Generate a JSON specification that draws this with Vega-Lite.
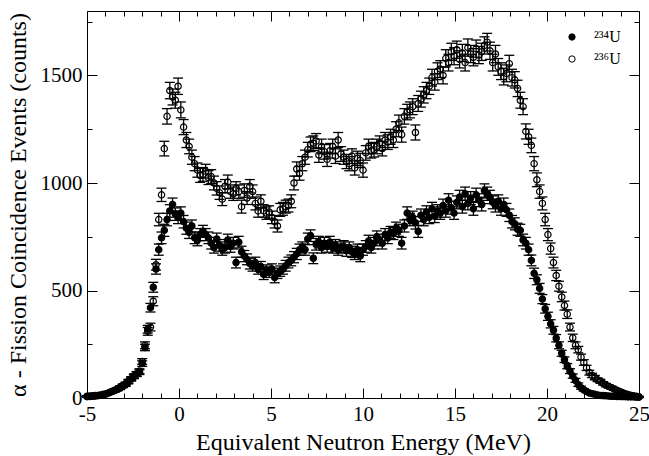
{
  "$schema": "https://vega.github.io/schema/vega-lite/v6.json",
  "width": 552,
  "height": 387,
  "autosize": {"type": "none"},
  "padding": {"left": 87, "top": 11, "right": 10, "bottom": 58},
  "background": "white",
  "config": {
    "view": {"stroke": "black", "strokeWidth": 1},
    "axis": {"domain": false, "grid": false, "tickColor": "black", "tickWidth": 1, "labelColor": "black", "titleColor": "black"}
  },
  "data": {
    "values": [
      {"E": -5, "a": 6, "ea": 2, "b": 8, "eb": 3},
      {"E": -4.85, "a": 7, "ea": 3, "b": 9, "eb": 3},
      {"E": -4.7, "a": 8, "ea": 3, "b": 10, "eb": 3},
      {"E": -4.55, "a": 9, "ea": 3, "b": 11, "eb": 3},
      {"E": -4.4, "a": 11, "ea": 3, "b": 12, "eb": 3},
      {"E": -4.25, "a": 13, "ea": 4, "b": 14, "eb": 4},
      {"E": -4.1, "a": 15, "ea": 4, "b": 17, "eb": 4},
      {"E": -3.95, "a": 19, "ea": 4, "b": 20, "eb": 4},
      {"E": -3.8, "a": 24, "ea": 5, "b": 25, "eb": 5},
      {"E": -3.65, "a": 30, "ea": 5, "b": 30, "eb": 5},
      {"E": -3.5, "a": 34, "ea": 6, "b": 36, "eb": 6},
      {"E": -3.35, "a": 40, "ea": 6, "b": 42, "eb": 6},
      {"E": -3.2, "a": 46, "ea": 7, "b": 50, "eb": 7},
      {"E": -3.05, "a": 55, "ea": 7, "b": 58, "eb": 8},
      {"E": -2.9, "a": 62, "ea": 8, "b": 66, "eb": 8},
      {"E": -2.75, "a": 75, "ea": 9, "b": 78, "eb": 9},
      {"E": -2.6, "a": 88, "ea": 9, "b": 90, "eb": 9},
      {"E": -2.45, "a": 100, "ea": 10, "b": 102, "eb": 10},
      {"E": -2.3, "a": 110, "ea": 10, "b": 112, "eb": 11},
      {"E": -2.15, "a": 120, "ea": 11, "b": 125, "eb": 11},
      {"E": -2, "a": 160, "ea": 13, "b": 170, "eb": 13},
      {"E": -1.85, "a": 235, "ea": 15, "b": 245, "eb": 16},
      {"E": -1.7, "a": 320, "ea": 18, "b": 310, "eb": 18},
      {"E": -1.55, "a": 420, "ea": 20, "b": 330, "eb": 18},
      {"E": -1.4, "a": 515, "ea": 23, "b": 450, "eb": 21},
      {"E": -1.25, "a": 600, "ea": 24, "b": 620, "eb": 25},
      {"E": -1.1, "a": 690, "ea": 26, "b": 830, "eb": 29},
      {"E": -0.95, "a": 745, "ea": 27, "b": 945, "eb": 31},
      {"E": -0.8, "a": 780, "ea": 28, "b": 1160, "eb": 34},
      {"E": -0.65, "a": 830, "ea": 29, "b": 1310, "eb": 36},
      {"E": -0.5, "a": 870, "ea": 29, "b": 1430, "eb": 38},
      {"E": -0.35, "a": 900, "ea": 30, "b": 1400, "eb": 37},
      {"E": -0.2, "a": 855, "ea": 29, "b": 1385, "eb": 37},
      {"E": -0.05, "a": 840, "ea": 29, "b": 1450, "eb": 38},
      {"E": 0.1, "a": 860, "ea": 29, "b": 1340, "eb": 37},
      {"E": 0.25, "a": 820, "ea": 29, "b": 1260, "eb": 35},
      {"E": 0.4, "a": 790, "ea": 28, "b": 1200, "eb": 35},
      {"E": 0.55, "a": 770, "ea": 28, "b": 1170, "eb": 34},
      {"E": 0.7, "a": 800, "ea": 28, "b": 1120, "eb": 33},
      {"E": 0.85, "a": 745, "ea": 27, "b": 1090, "eb": 33},
      {"E": 1, "a": 735, "ea": 27, "b": 1060, "eb": 33},
      {"E": 1.15, "a": 760, "ea": 28, "b": 1035, "eb": 32},
      {"E": 1.3, "a": 775, "ea": 28, "b": 1040, "eb": 32},
      {"E": 1.45, "a": 760, "ea": 28, "b": 1055, "eb": 32},
      {"E": 1.6, "a": 745, "ea": 27, "b": 1025, "eb": 32},
      {"E": 1.75, "a": 720, "ea": 27, "b": 1030, "eb": 32},
      {"E": 1.9, "a": 700, "ea": 26, "b": 1000, "eb": 32},
      {"E": 2.05, "a": 740, "ea": 27, "b": 975, "eb": 31},
      {"E": 2.2, "a": 710, "ea": 27, "b": 955, "eb": 31},
      {"E": 2.35, "a": 690, "ea": 26, "b": 925, "eb": 30},
      {"E": 2.5, "a": 700, "ea": 26, "b": 985, "eb": 31},
      {"E": 2.65, "a": 735, "ea": 27, "b": 1005, "eb": 32},
      {"E": 2.8, "a": 705, "ea": 27, "b": 960, "eb": 31},
      {"E": 2.95, "a": 720, "ea": 27, "b": 950, "eb": 31},
      {"E": 3.1, "a": 630, "ea": 25, "b": 975, "eb": 31},
      {"E": 3.25, "a": 725, "ea": 27, "b": 960, "eb": 31},
      {"E": 3.4, "a": 680, "ea": 26, "b": 890, "eb": 30},
      {"E": 3.55, "a": 660, "ea": 26, "b": 965, "eb": 31},
      {"E": 3.7, "a": 645, "ea": 25, "b": 930, "eb": 30},
      {"E": 3.85, "a": 625, "ea": 25, "b": 985, "eb": 31},
      {"E": 4, "a": 615, "ea": 25, "b": 960, "eb": 31},
      {"E": 4.15, "a": 630, "ea": 25, "b": 905, "eb": 30},
      {"E": 4.3, "a": 600, "ea": 24, "b": 870, "eb": 29},
      {"E": 4.45, "a": 610, "ea": 25, "b": 915, "eb": 30},
      {"E": 4.6, "a": 575, "ea": 24, "b": 870, "eb": 29},
      {"E": 4.75, "a": 595, "ea": 24, "b": 860, "eb": 29},
      {"E": 4.9, "a": 585, "ea": 24, "b": 865, "eb": 29},
      {"E": 5.05, "a": 600, "ea": 24, "b": 840, "eb": 29},
      {"E": 5.2, "a": 560, "ea": 24, "b": 820, "eb": 29},
      {"E": 5.35, "a": 580, "ea": 24, "b": 800, "eb": 28},
      {"E": 5.5, "a": 590, "ea": 24, "b": 875, "eb": 30},
      {"E": 5.65, "a": 600, "ea": 24, "b": 880, "eb": 30},
      {"E": 5.8, "a": 615, "ea": 25, "b": 890, "eb": 30},
      {"E": 5.95, "a": 630, "ea": 25, "b": 895, "eb": 30},
      {"E": 6.1, "a": 640, "ea": 25, "b": 915, "eb": 30},
      {"E": 6.25, "a": 655, "ea": 26, "b": 1000, "eb": 32},
      {"E": 6.4, "a": 670, "ea": 26, "b": 1065, "eb": 33},
      {"E": 6.55, "a": 690, "ea": 26, "b": 1045, "eb": 32},
      {"E": 6.7, "a": 700, "ea": 26, "b": 1090, "eb": 33},
      {"E": 6.85, "a": 690, "ea": 26, "b": 1120, "eb": 33},
      {"E": 7, "a": 740, "ea": 27, "b": 1155, "eb": 34},
      {"E": 7.15, "a": 755, "ea": 27, "b": 1180, "eb": 34},
      {"E": 7.3, "a": 650, "ea": 25, "b": 1185, "eb": 34},
      {"E": 7.45, "a": 715, "ea": 27, "b": 1195, "eb": 35},
      {"E": 7.6, "a": 725, "ea": 27, "b": 1130, "eb": 34},
      {"E": 7.75, "a": 700, "ea": 26, "b": 1170, "eb": 34},
      {"E": 7.9, "a": 720, "ea": 27, "b": 1145, "eb": 34},
      {"E": 8.05, "a": 705, "ea": 27, "b": 1110, "eb": 33},
      {"E": 8.2, "a": 725, "ea": 27, "b": 1150, "eb": 34},
      {"E": 8.35, "a": 700, "ea": 26, "b": 1170, "eb": 34},
      {"E": 8.5, "a": 710, "ea": 27, "b": 1125, "eb": 34},
      {"E": 8.65, "a": 690, "ea": 26, "b": 1200, "eb": 35},
      {"E": 8.8, "a": 700, "ea": 26, "b": 1135, "eb": 34},
      {"E": 8.95, "a": 705, "ea": 27, "b": 1120, "eb": 33},
      {"E": 9.1, "a": 685, "ea": 26, "b": 1100, "eb": 33},
      {"E": 9.25, "a": 700, "ea": 26, "b": 1090, "eb": 33},
      {"E": 9.4, "a": 680, "ea": 26, "b": 1125, "eb": 34},
      {"E": 9.55, "a": 670, "ea": 26, "b": 1070, "eb": 33},
      {"E": 9.7, "a": 690, "ea": 26, "b": 1115, "eb": 33},
      {"E": 9.85, "a": 660, "ea": 26, "b": 1105, "eb": 33},
      {"E": 10, "a": 690, "ea": 26, "b": 1060, "eb": 33},
      {"E": 10.15, "a": 705, "ea": 27, "b": 1140, "eb": 34},
      {"E": 10.3, "a": 730, "ea": 27, "b": 1170, "eb": 34},
      {"E": 10.45, "a": 700, "ea": 26, "b": 1150, "eb": 34},
      {"E": 10.6, "a": 720, "ea": 27, "b": 1155, "eb": 34},
      {"E": 10.75, "a": 750, "ea": 27, "b": 1170, "eb": 34},
      {"E": 10.9, "a": 735, "ea": 27, "b": 1185, "eb": 34},
      {"E": 11.05, "a": 720, "ea": 27, "b": 1160, "eb": 34},
      {"E": 11.2, "a": 760, "ea": 28, "b": 1200, "eb": 35},
      {"E": 11.35, "a": 745, "ea": 27, "b": 1190, "eb": 34},
      {"E": 11.5, "a": 770, "ea": 28, "b": 1215, "eb": 35},
      {"E": 11.65, "a": 765, "ea": 28, "b": 1200, "eb": 35},
      {"E": 11.8, "a": 790, "ea": 28, "b": 1250, "eb": 35},
      {"E": 11.95, "a": 780, "ea": 28, "b": 1280, "eb": 36},
      {"E": 12.1, "a": 720, "ea": 27, "b": 1225, "eb": 35},
      {"E": 12.25, "a": 800, "ea": 28, "b": 1310, "eb": 36},
      {"E": 12.4, "a": 860, "ea": 29, "b": 1330, "eb": 36},
      {"E": 12.55, "a": 830, "ea": 29, "b": 1340, "eb": 37},
      {"E": 12.7, "a": 840, "ea": 29, "b": 1355, "eb": 37},
      {"E": 12.85, "a": 815, "ea": 29, "b": 1235, "eb": 35},
      {"E": 13, "a": 775, "ea": 28, "b": 1370, "eb": 37},
      {"E": 13.15, "a": 850, "ea": 29, "b": 1390, "eb": 37},
      {"E": 13.3, "a": 830, "ea": 29, "b": 1410, "eb": 38},
      {"E": 13.45, "a": 865, "ea": 29, "b": 1430, "eb": 38},
      {"E": 13.6, "a": 840, "ea": 29, "b": 1450, "eb": 38},
      {"E": 13.75, "a": 880, "ea": 30, "b": 1490, "eb": 39},
      {"E": 13.9, "a": 845, "ea": 29, "b": 1470, "eb": 38},
      {"E": 14.05, "a": 870, "ea": 29, "b": 1520, "eb": 39},
      {"E": 14.2, "a": 860, "ea": 29, "b": 1530, "eb": 39},
      {"E": 14.35, "a": 895, "ea": 30, "b": 1500, "eb": 39},
      {"E": 14.5, "a": 870, "ea": 29, "b": 1580, "eb": 40},
      {"E": 14.65, "a": 920, "ea": 30, "b": 1560, "eb": 39},
      {"E": 14.8, "a": 885, "ea": 30, "b": 1610, "eb": 40},
      {"E": 14.95, "a": 860, "ea": 29, "b": 1590, "eb": 40},
      {"E": 15.1, "a": 910, "ea": 30, "b": 1620, "eb": 40},
      {"E": 15.25, "a": 935, "ea": 31, "b": 1575, "eb": 40},
      {"E": 15.4, "a": 890, "ea": 30, "b": 1605, "eb": 40},
      {"E": 15.55, "a": 950, "ea": 31, "b": 1560, "eb": 39},
      {"E": 15.7, "a": 905, "ea": 30, "b": 1630, "eb": 40},
      {"E": 15.85, "a": 930, "ea": 30, "b": 1600, "eb": 40},
      {"E": 16, "a": 880, "ea": 30, "b": 1585, "eb": 40},
      {"E": 16.15, "a": 945, "ea": 31, "b": 1625, "eb": 40},
      {"E": 16.3, "a": 920, "ea": 30, "b": 1595, "eb": 40},
      {"E": 16.45, "a": 900, "ea": 30, "b": 1610, "eb": 40},
      {"E": 16.6, "a": 965, "ea": 31, "b": 1640, "eb": 40},
      {"E": 16.75, "a": 950, "ea": 31, "b": 1655, "eb": 41},
      {"E": 16.9, "a": 935, "ea": 31, "b": 1615, "eb": 40},
      {"E": 17.05, "a": 910, "ea": 30, "b": 1560, "eb": 39},
      {"E": 17.2, "a": 895, "ea": 30, "b": 1600, "eb": 40},
      {"E": 17.35, "a": 915, "ea": 30, "b": 1540, "eb": 39},
      {"E": 17.5, "a": 880, "ea": 30, "b": 1520, "eb": 39},
      {"E": 17.65, "a": 900, "ea": 30, "b": 1495, "eb": 39},
      {"E": 17.8, "a": 875, "ea": 30, "b": 1510, "eb": 39},
      {"E": 17.95, "a": 850, "ea": 29, "b": 1555, "eb": 39},
      {"E": 18.1, "a": 820, "ea": 29, "b": 1490, "eb": 39},
      {"E": 18.25, "a": 810, "ea": 28, "b": 1480, "eb": 38},
      {"E": 18.4, "a": 785, "ea": 28, "b": 1440, "eb": 38},
      {"E": 18.55, "a": 780, "ea": 28, "b": 1385, "eb": 37},
      {"E": 18.7, "a": 735, "ea": 27, "b": 1355, "eb": 37},
      {"E": 18.85, "a": 720, "ea": 27, "b": 1240, "eb": 35},
      {"E": 19, "a": 690, "ea": 26, "b": 1215, "eb": 35},
      {"E": 19.15, "a": 640, "ea": 25, "b": 1175, "eb": 34},
      {"E": 19.3, "a": 580, "ea": 24, "b": 1090, "eb": 33},
      {"E": 19.45, "a": 550, "ea": 23, "b": 1015, "eb": 32},
      {"E": 19.6, "a": 510, "ea": 23, "b": 960, "eb": 31},
      {"E": 19.75, "a": 460, "ea": 21, "b": 905, "eb": 30},
      {"E": 19.9, "a": 415, "ea": 20, "b": 830, "eb": 29},
      {"E": 20.05, "a": 380, "ea": 19, "b": 760, "eb": 28},
      {"E": 20.2, "a": 345, "ea": 19, "b": 695, "eb": 26},
      {"E": 20.35, "a": 315, "ea": 18, "b": 630, "eb": 25},
      {"E": 20.5, "a": 278, "ea": 17, "b": 570, "eb": 24},
      {"E": 20.65, "a": 245, "ea": 16, "b": 520, "eb": 23},
      {"E": 20.8, "a": 208, "ea": 14, "b": 470, "eb": 22},
      {"E": 20.95, "a": 178, "ea": 13, "b": 430, "eb": 21},
      {"E": 21.1, "a": 148, "ea": 12, "b": 390, "eb": 20},
      {"E": 21.25, "a": 125, "ea": 11, "b": 330, "eb": 18},
      {"E": 21.4, "a": 102, "ea": 10, "b": 280, "eb": 17},
      {"E": 21.55, "a": 82, "ea": 9, "b": 245, "eb": 16},
      {"E": 21.7, "a": 62, "ea": 8, "b": 225, "eb": 15},
      {"E": 21.85, "a": 48, "ea": 7, "b": 190, "eb": 14},
      {"E": 22, "a": 38, "ea": 6, "b": 165, "eb": 13},
      {"E": 22.15, "a": 30, "ea": 5, "b": 140, "eb": 12},
      {"E": 22.3, "a": 23, "ea": 5, "b": 118, "eb": 11},
      {"E": 22.45, "a": 20, "ea": 4, "b": 105, "eb": 10},
      {"E": 22.6, "a": 17, "ea": 4, "b": 95, "eb": 10},
      {"E": 22.75, "a": 14, "ea": 4, "b": 85, "eb": 9},
      {"E": 22.9, "a": 12, "ea": 3, "b": 78, "eb": 9},
      {"E": 23.05, "a": 11, "ea": 3, "b": 68, "eb": 8},
      {"E": 23.2, "a": 10, "ea": 3, "b": 60, "eb": 8},
      {"E": 23.35, "a": 9, "ea": 3, "b": 54, "eb": 7},
      {"E": 23.5, "a": 8, "ea": 3, "b": 48, "eb": 7},
      {"E": 23.65, "a": 8, "ea": 3, "b": 42, "eb": 6},
      {"E": 23.8, "a": 7, "ea": 3, "b": 36, "eb": 6},
      {"E": 23.95, "a": 7, "ea": 3, "b": 30, "eb": 5},
      {"E": 24.1, "a": 6, "ea": 2, "b": 25, "eb": 5},
      {"E": 24.25, "a": 6, "ea": 2, "b": 20, "eb": 4},
      {"E": 24.4, "a": 5, "ea": 2, "b": 16, "eb": 4},
      {"E": 24.55, "a": 5, "ea": 2, "b": 13, "eb": 4},
      {"E": 24.7, "a": 5, "ea": 2, "b": 10, "eb": 3},
      {"E": 24.85, "a": 4, "ea": 2, "b": 8, "eb": 3},
      {"E": 25, "a": 4, "ea": 2, "b": 6, "eb": 2}
    ]
  },
  "layer": [
    {
      "mark": {"type": "point", "opacity": 0},
      "encoding": {
        "x": {
          "field": "E", "type": "quantitative",
          "scale": {"domain": [-5, 25], "nice": false, "zero": false},
          "axis": {"orient": "bottom", "values": [-5, 0, 5, 10, 15, 20, 25], "labelExpr": "'' + datum.value", "tickSize": -10, "labelPadding": 15, "labelFlush": false, "labelFont": "Liberation Serif", "labelFontSize": 21, "title": "Equivalent Neutron Energy (MeV)", "titleFont": "Liberation Serif", "titleFontSize": 24, "titleFontWeight": "normal", "titlePadding": 6}
        },
        "y": {
          "field": "a", "type": "quantitative",
          "scale": {"domain": [0, 1800], "nice": false},
          "axis": {"orient": "left", "values": [0, 500, 1000, 1500], "labelExpr": "'' + datum.value", "tickSize": -10, "labelPadding": 15, "labelFont": "Liberation Serif", "labelFontSize": 21, "title": "α - Fission Coincidence Events (counts)", "titleFont": "Liberation Serif", "titleFontSize": 24, "titleFontWeight": "normal", "titlePadding": 10}
        }
      }
    },
    {
      "mark": {"type": "errorbar", "color": "black", "opacity": 1, "ticks": {"size": 10, "thickness": 1.3, "color": "black", "opacity": 1}, "rule": {"strokeWidth": 1.3, "color": "black", "opacity": 1}},
      "encoding": {
        "x": {"field": "E", "type": "quantitative", "scale": {"domain": [-5, 25], "nice": false, "zero": false}, "axis": null},
        "y": {"field": "a", "type": "quantitative", "scale": {"domain": [0, 1800], "nice": false}, "axis": null},
        "yError": {"field": "ea"}
      }
    },
    {
      "mark": {"type": "point", "shape": "circle", "filled": true, "size": 40, "opacity": 1, "stroke": "black", "strokeWidth": 1.2},
      "encoding": {
        "x": {"field": "E", "type": "quantitative", "scale": {"domain": [-5, 25], "nice": false, "zero": false}, "axis": null},
        "y": {"field": "a", "type": "quantitative", "scale": {"domain": [0, 1800], "nice": false}, "axis": null},
        "fill": {
          "datum": "²³⁴U", "type": "nominal",
          "scale": {"domain": ["²³⁴U", "²³⁶U"], "range": ["black", "transparent"]},
          "legend": {"orient": "top-right", "offset": 18, "title": null, "padding": 0, "labelFont": "Liberation Serif", "labelFontSize": 16, "labelColor": "black", "symbolType": "circle", "symbolSize": 40, "symbolStrokeColor": "black", "symbolStrokeWidth": 1, "labelOffset": 14, "rowPadding": 6}
        }
      }
    },
    {
      "mark": {"type": "errorbar", "color": "black", "opacity": 1, "ticks": {"size": 10, "thickness": 1.3, "color": "black", "opacity": 1}, "rule": {"strokeWidth": 1.3, "color": "black", "opacity": 1}},
      "encoding": {
        "x": {"field": "E", "type": "quantitative", "scale": {"domain": [-5, 25], "nice": false, "zero": false}, "axis": null},
        "y": {"field": "b", "type": "quantitative", "scale": {"domain": [0, 1800], "nice": false}, "axis": null},
        "yError": {"field": "eb"}
      }
    },
    {
      "mark": {"type": "point", "shape": "circle", "filled": true, "size": 40, "opacity": 1, "stroke": "black", "strokeWidth": 1.2},
      "encoding": {
        "x": {
          "field": "E", "type": "quantitative",
          "scale": {"domain": [-5, 25], "nice": false, "zero": false},
          "axis": {"orient": "top", "values": [-5, 0, 5, 10, 15, 20, 25], "tickSize": -10, "labels": false, "title": null}
        },
        "y": {
          "field": "b", "type": "quantitative",
          "scale": {"domain": [0, 1800], "nice": false},
          "axis": {"orient": "right", "values": [0, 500, 1000, 1500], "tickSize": -10, "labels": false, "title": null}
        },
        "fill": {
          "datum": "²³⁶U", "type": "nominal",
          "legend": {"orient": "top-right", "offset": 18, "title": null, "padding": 0, "labelFont": "Liberation Serif", "labelFontSize": 16, "labelColor": "black", "symbolType": "circle", "symbolSize": 40, "symbolStrokeColor": "black", "symbolStrokeWidth": 1, "labelOffset": 14, "rowPadding": 6}
        }
      }
    },
    {
      "mark": {"type": "point", "opacity": 0},
      "encoding": {
        "x": {
          "field": "E", "type": "quantitative",
          "scale": {"domain": [-5, 25], "nice": false, "zero": false},
          "axis": {"orient": "bottom", "values": [-4, -3, -2, -1, 1, 2, 3, 4, 6, 7, 8, 9, 11, 12, 13, 14, 16, 17, 18, 19, 21, 22, 23, 24], "tickSize": -5, "labels": false, "title": null}
        },
        "y": {
          "field": "a", "type": "quantitative",
          "scale": {"domain": [0, 1800], "nice": false},
          "axis": {"orient": "left", "values": [250, 750, 1250, 1750], "tickSize": -5, "labels": false, "title": null}
        }
      }
    },
    {
      "mark": {"type": "point", "opacity": 0},
      "encoding": {
        "x": {
          "field": "E", "type": "quantitative",
          "scale": {"domain": [-5, 25], "nice": false, "zero": false},
          "axis": {"orient": "top", "values": [-4, -3, -2, -1, 1, 2, 3, 4, 6, 7, 8, 9, 11, 12, 13, 14, 16, 17, 18, 19, 21, 22, 23, 24], "tickSize": -5, "labels": false, "title": null}
        },
        "y": {
          "field": "b", "type": "quantitative",
          "scale": {"domain": [0, 1800], "nice": false},
          "axis": {"orient": "right", "values": [250, 750, 1250, 1750], "tickSize": -5, "labels": false, "title": null}
        }
      }
    }
  ],
  "resolve": {"axis": {"x": "independent", "y": "independent"}}
}
